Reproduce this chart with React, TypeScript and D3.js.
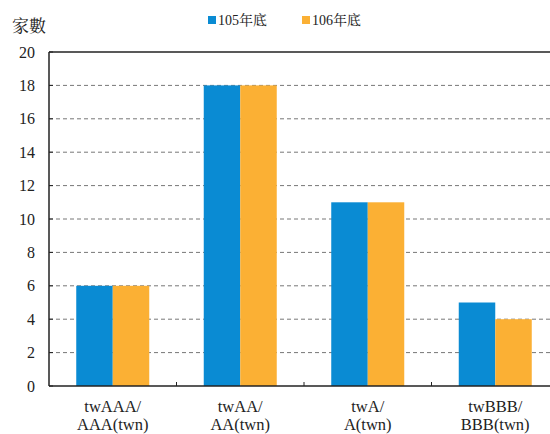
import React from "react";
import * as d3 from "d3";

const categories = ["twAAA/\nAAA(twn)", "twAA/\nAA(twn)", "twA/\nA(twn)", "twBBB/\nBBB(twn)"];
const seriesNames = ["105年底", "106年底"];
const values105 = [6, 18, 11, 5];
const values106 = [6, 18, 11, 4];
const yTicks = [0, 2, 4, 6, 8, 10, 12, 14, 16, 18, 20];
const colors = ["#0A8BD3", "#FBB034"];

export default function App() {
  const W = 550, H = 434;
  const left = 49, right = 559, top = 52, bottom = 386;
  const x = d3.scaleBand<string>().domain(categories).range([left, right]).paddingInner(0).paddingOuter(0);
  const bw = 36.5;
  const y = d3.scaleLinear().domain([0, 20]).range([bottom, top]);
  const series = [values105, values106];
  const serif = "Times New Roman, Liberation Serif, DejaVu Serif, serif";
  const cjk = "Times New Roman, Liberation Serif, Noto Serif CJK TC, Noto Sans CJK TC, serif";
  return (
    <svg width={W} height={H} style={{ position: "absolute", left: 0, top: 0 }}>
      <rect width={W} height={H} fill="#fff" />
      {yTicks.filter(t => t > 0 && t < 20).map(t => (
        <line key={t} x1={left} x2={right} y1={y(t)} y2={y(t)} stroke="#777" strokeWidth={1} strokeDasharray="4,3" />
      ))}
      {categories.map((c, i) => {
        const cx = x(c)! + x.bandwidth() / 2;
        return series.map((s, j) => (
          <rect key={c + j} x={cx - bw + j * bw} y={y(s[i])} width={bw} height={bottom - y(s[i])} fill={colors[j]} />
        ));
      })}
      <line x1={left} x2={right} y1={top} y2={top} stroke="#222" strokeWidth={1.5} />
      <line x1={left} x2={left} y1={top} y2={bottom} stroke="#222" strokeWidth={1.5} />
      <line x1={left} x2={right} y1={bottom} y2={bottom} stroke="#222" strokeWidth={1.5} />
      {yTicks.map(t => (
        <g key={t}>
          <line x1={left} x2={left + 4} y1={y(t)} y2={y(t)} stroke="#222" strokeWidth={1} />
          <text x={35} y={y(t)} dy="0.35em" textAnchor="end" fontFamily={serif} fontSize={16} fill="#222">{t}</text>
        </g>
      ))}
      {categories.slice(1).map(c => (
        <line key={c} x1={x(c)!} x2={x(c)!} y1={bottom} y2={bottom - 4} stroke="#222" strokeWidth={1} />
      ))}
      {categories.map(c => {
        const cx = x(c)! + x.bandwidth() / 2;
        const lines = c.split("\n");
        return (
          <text key={c} x={cx} textAnchor="middle" fontFamily={serif} fontSize={16.5} fill="#222">
            {lines.map((l, k) => (
              <tspan key={k} x={cx} y={412 + k * 18}>{l}</tspan>
            ))}
          </text>
        );
      })}
      <text x={12} y={32} fontFamily={cjk} fontSize={17} fill="#222">家數</text>
      {seriesNames.map((n, j) => {
        const lx = [208, 302][j];
        return (
          <g key={n}>
            <rect x={lx} y={16} width={8} height={8} fill={colors[j]} />
            <text x={lx + 10} y={25} fontFamily={cjk} fontSize={14} fill="#222">{n}</text>
          </g>
        );
      })}
    </svg>
  );
}
